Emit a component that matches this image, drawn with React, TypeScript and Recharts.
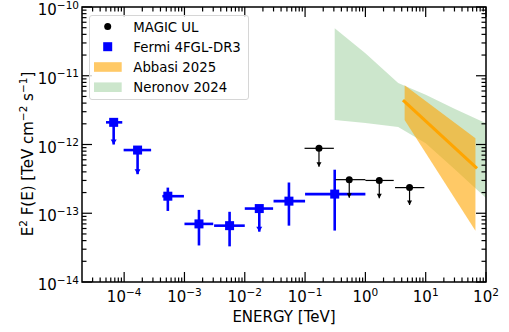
import React from 'react';
import {
  ComposedChart,
  XAxis,
  YAxis,
  Scatter,
  Area,
  Line,
  ErrorBar,
  ReferenceArea,
} from 'recharts';

// energies in TeV, fluxes in TeV cm^-2 s^-1
const fermiE = [6.7e-5, 1.67e-4, 5.3e-4, 1.74e-3, 5.6e-3, 1.74e-2, 5.4e-2, 0.31];
const fermiElo = [5.0e-5, 9.8e-5, 4.3e-4, 1.0e-3, 3.1e-3, 1.0e-2, 3.0e-2, 0.1];
const fermiEhi = [9.3e-5, 2.8e-4, 9.8e-4, 3.0e-3, 1.0e-2, 2.95e-2, 0.1, 1.0];
const fermiF = [2.1e-12, 8.3e-13, 1.77e-13, 7.0e-14, 6.6e-14, 1.17e-13, 1.5e-13, 1.9e-13];
const fermiFlo = [1.0e-12, 3.7e-13, 1.08e-13, 3.4e-14, 3.3e-14, 5.4e-14, 6.6e-14, 5.6e-14];
const fermiFhi = [2.1e-12, 8.3e-13, 2.36e-13, 1.12e-13, 1.05e-13, 1.17e-13, 2.8e-13, 4.3e-13];
const fermiUL = [true, true, false, false, false, true, false, false];

const magicE = [0.17, 0.54, 1.7, 5.4];
const magicElo = [0.098, 0.32, 1.0, 3.1];
const magicEhi = [0.3, 1.0, 2.95, 9.5];
const magicF = [8.8e-13, 3.08e-13, 3.0e-13, 2.36e-13];
const magicTip = [4.75e-13, 1.68e-13, 1.65e-13, 1.32e-13];

const neronovE = [0.31, 1, 3.5, 10, 30, 100];
const neronovLo = [2.27e-12, 2.06e-12, 1.8e-12, 1.04e-12, 4.4e-13, 1.66e-13];
const neronovHi = [4.9e-11, 2.12e-11, 7.85e-12, 5.3e-12, 3.3e-12, 2.04e-12];

const abbasiE = [4.47, 66.8];
const abbasiLo = [2.27e-12, 5.57e-14];
const abbasiHi = [7.26e-12, 1.23e-12];
const abbasiFitE = [4.2, 71];
const abbasiFitF = [4.43e-12, 4.5e-13];

const xDecades = [1e-5, 1e-4, 1e-3, 1e-2, 1e-1, 1, 10, 100];
const yDecades = [1e-14, 1e-13, 1e-12, 1e-11, 1e-10];
const X_DOMAIN: [number, number] = [2e-5, 100];
const Y_DOMAIN: [number, number] = [1e-14, 1e-10];

const FONT = '"DejaVu Sans", sans-serif';
const FS = 15;
const SUP = 10.5;
const PLOT = { left: 82, right: 486, top: 7, bottom: 282 };

const withMinors = (decades: number[], [lo, hi]: [number, number]) => {
  const out: number[] = [];
  decades.forEach((d) => {
    for (let m = 1; m < 10; m++) {
      const v = m * d;
      if (v > lo * 1.0001 && v <= hi * 1.0001) out.push(v);
    }
  });
  return out;
};
const xTicks = withMinors(xDecades, X_DOMAIN);
const yTicks = withMinors(yDecades, Y_DOMAIN).concat([1e-14]);

const isDecade = (v: number) =>
  Math.abs(Math.log10(v) - Math.round(Math.log10(v))) < 1e-6;

const fermi = fermiE.map((e, i) => ({
  e,
  f: fermiF[i],
  ex: [e - fermiElo[i], fermiEhi[i] - e],
  ey: [fermiF[i] - fermiFlo[i], fermiFhi[i] - fermiF[i]],
}));
const fermiArrows = fermiE
  .map((e, i) => ({ e, f: fermiFlo[i], ul: fermiUL[i] }))
  .filter((d) => d.ul);

const magic = magicE.map((e, i) => ({
  e,
  f: magicF[i],
  ex: [e - magicElo[i], magicEhi[i] - e],
  ey: [magicF[i] - magicTip[i], 0],
}));
const magicArrows = magicE.map((e, i) => ({ e, f: magicTip[i] }));

const neronov = neronovE.map((e, i) => ({ e, range: [neronovLo[i], neronovHi[i]] }));
const abbasi = abbasiE.map((e, i) => ({ e, range: [abbasiLo[i], abbasiHi[i]] }));
const abbasiFit = abbasiFitE.map((e, i) => ({ e, f: abbasiFitF[i] }));

const Pow = ({ x, y, exp, anchor }: { x: number; y: number; exp: number; anchor: string }) => (
  <text x={x} y={y} textAnchor={anchor as any} fontFamily={FONT} fontSize={FS} fill="#000">
    10
    <tspan dy={-6.5} fontSize={SUP}>
      {exp < 0 ? '\u2212' + -exp : String(exp)}
    </tspan>
  </text>
);

const XTick = (props: any) => {
  const { x, payload } = props;
  const v = payload.value;
  const major = isDecade(v);
  const len = major ? 10 : 4.5;
  return (
    <g>
      <line x1={x} x2={x} y1={PLOT.bottom} y2={PLOT.bottom - len} stroke="#000" strokeWidth={1.2} />
      <line x1={x} x2={x} y1={PLOT.top} y2={PLOT.top + len} stroke="#000" strokeWidth={1.2} />
      {major && <Pow x={x} y={PLOT.bottom + 20} exp={Math.round(Math.log10(v))} anchor="middle" />}
    </g>
  );
};

const YTick = (props: any) => {
  const { y, payload } = props;
  const v = payload.value;
  const major = isDecade(v);
  const len = major ? 10 : 4.5;
  return (
    <g>
      <line x1={PLOT.left} x2={PLOT.left + len} y1={y} y2={y} stroke="#000" strokeWidth={1.2} />
      <line x1={PLOT.right} x2={PLOT.right - len} y1={y} y2={y} stroke="#000" strokeWidth={1.2} />
      {major && <Pow x={79} y={y + 8} exp={Math.round(Math.log10(v))} anchor="end" />}
    </g>
  );
};

const XLabel = () => (
  <text x={284} y={322} textAnchor="middle" fontFamily={FONT} fontSize={FS} fill="#000">
    ENERGY [TeV]
  </text>
);

const YLabel = () => (
  <text
    x={33}
    y={154}
    transform="rotate(-90 33 154)"
    textAnchor="middle"
    fontFamily={FONT}
    fontSize={FS}
    fill="#000"
  >
    E<tspan dy={-6.5} fontSize={SUP}>2</tspan>
    <tspan dy={6.5}> F(E) [TeV cm</tspan>
    <tspan dy={-6.5} fontSize={SUP}>{'\u22122'}</tspan>
    <tspan dy={6.5}> s</tspan>
    <tspan dy={-6.5} fontSize={SUP}>{'\u22121'}</tspan>
    <tspan dy={6.5}>]</tspan>
  </text>
);

const Square = (props: any) => (
  <rect x={props.cx - 4.5} y={props.cy - 4.5} width={9} height={9} fill="#0000ff" />
);
const Dot = (props: any) => <circle cx={props.cx} cy={props.cy} r={3.5} fill="#000" />;
const arrowHead = (color: string, w: number, h: number) => (props: any) => (
  <path
    d={`M${props.cx - w / 2},${props.cy - h} L${props.cx + w / 2},${props.cy - h} L${props.cx},${props.cy} Z`}
    fill={color}
  />
);

const legendItems = [
  { label: 'MAGIC UL', kind: 'dot' },
  { label: 'Fermi 4FGL-DR3', kind: 'square' },
  { label: 'Abbasi 2025', kind: 'orange' },
  { label: 'Neronov 2024', kind: 'green' },
];

const LegendBox = () => (
  <div
    style={{
      position: 'absolute',
      left: 89,
      top: 15,
      width: 158,
      height: 83,
      border: '1px solid #d6d6d6',
      borderRadius: 3,
      background: 'rgba(255,255,255,0.8)',
    }}
  >
    <svg width={158} height={83} style={{ position: 'absolute', left: 0, top: 0 }}>
      {legendItems.map((it, i) => {
        const cy = 10.5 + i * 20.2;
        return (
          <g key={it.label}>
            {it.kind === 'dot' && <circle cx={17.7} cy={cy} r={3.5} fill="#000" />}
            {it.kind === 'square' && <rect x={13.2} y={cy - 4.5} width={9} height={9} fill="#0000ff" />}
            {it.kind === 'orange' && (
              <rect x={4} y={cy - 4.7} width={27.7} height={9.6} fill="orange" fillOpacity={0.6} />
            )}
            {it.kind === 'green' && (
              <rect x={4} y={cy - 4.7} width={27.7} height={9.6} fill="green" fillOpacity={0.2} />
            )}
            <text x={43.3} y={cy + 5} fontFamily={FONT} fontSize={13.3} fill="#000">
              {it.label}
            </text>
          </g>
        );
      })}
    </svg>
  </div>
);

export default function App() {
  return (
    <div style={{ position: 'absolute', left: 0, top: 0, width: 509, height: 332, background: '#fff' }}>
      <ComposedChart width={509} height={332} margin={{ top: 7, right: 23, bottom: 20, left: 22 }}>
        <XAxis
          dataKey="e"
          type="number"
          scale="log"
          domain={X_DOMAIN}
          allowDataOverflow
          ticks={xTicks}
          interval={0}
          tick={<XTick />}
          tickLine={false}
          axisLine={false}
          height={30}
          label={<XLabel />}
        />
        <YAxis
          type="number"
          scale="log"
          domain={Y_DOMAIN}
          allowDataOverflow
          ticks={yTicks}
          interval={0}
          tick={<YTick />}
          tickLine={false}
          axisLine={false}
          width={60}
          label={<YLabel />}
        />
        <Area
          data={neronov}
          dataKey="range"
          type="linear"
          stroke="none"
          fill="green"
          fillOpacity={0.2}
          isAnimationActive={false}
        />
        <Area
          data={abbasi}
          dataKey="range"
          type="linear"
          stroke="none"
          fill="orange"
          fillOpacity={0.6}
          isAnimationActive={false}
        />
        <Line
          data={abbasiFit}
          dataKey="f"
          type="linear"
          stroke="orange"
          strokeWidth={3}
          dot={false}
          isAnimationActive={false}
        />
        <Scatter data={fermi} dataKey="f" shape={<Square />} isAnimationActive={false}>
          <ErrorBar dataKey="ex" direction="x" width={0} stroke="#0000ff" strokeWidth={2.6} />
          <ErrorBar dataKey="ey" direction="y" width={0} stroke="#0000ff" strokeWidth={2.6} />
        </Scatter>
        <Scatter data={fermiArrows} dataKey="f" shape={arrowHead('#0000ff', 6, 5)} isAnimationActive={false} />
        <Scatter data={magic} dataKey="f" shape={<Dot />} isAnimationActive={false}>
          <ErrorBar dataKey="ex" direction="x" width={0} stroke="#000" strokeWidth={1.2} />
          <ErrorBar dataKey="ey" direction="y" width={0} stroke="#000" strokeWidth={1.2} />
        </Scatter>
        <Scatter data={magicArrows} dataKey="f" shape={arrowHead('#000', 5, 4.5)} isAnimationActive={false} />
        <ReferenceArea
          x1={X_DOMAIN[0]}
          x2={X_DOMAIN[1]}
          y1={Y_DOMAIN[0]}
          y2={Y_DOMAIN[1]}
          fill="none"
          stroke="#000"
          strokeWidth={1.5}
          ifOverflow="visible"
        />
      </ComposedChart>
      <LegendBox />
    </div>
  );
}
